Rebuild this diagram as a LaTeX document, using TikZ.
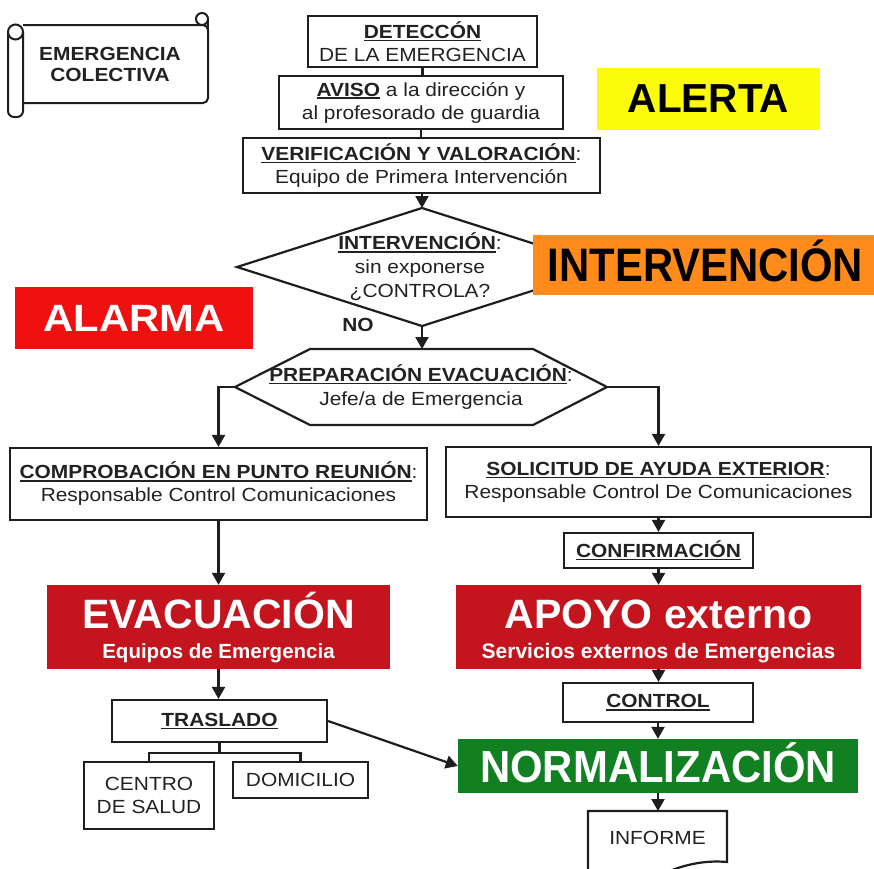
\documentclass[tikz,border=0pt]{standalone}
\usepackage{fontspec}
\setmainfont{Liberation Sans}[FakeStretch=1.1]
\newfontfamily\bigf{Liberation Sans}
\usepackage{graphicx}
\usetikzlibrary{arrows.meta}
\definecolor{linec}{HTML}{1E1E1E}
\definecolor{txt}{HTML}{222222}
\definecolor{darkred}{RGB}{196,20,30}
\definecolor{brightred}{RGB}{240,16,16}
\definecolor{grn}{RGB}{16,128,32}
\definecolor{orng}{RGB}{255,140,26}
\definecolor{yel}{RGB}{252,252,10}
\newsavebox\ttlbox
\newcommand\ttl[1]{\sbox\ttlbox{\textbf{#1}}\rlap{\rule[-2.8pt]{\wd\ttlbox}{1.4pt}}\usebox\ttlbox}
\tikzset{
  box/.style={draw=linec, line width=2.2pt, fill=white, inner sep=0pt, align=center, text=txt, font=\fontsize{19}{23}\selectfont},
  lbl/.style={inner sep=0pt, align=center},
  conn/.style={draw=linec, line width=2.2pt},
  arr/.style={conn, -{Triangle[width=13pt,length=12pt]}},
  tag/.style={inner sep=0pt, align=center, font=\bfseries},
}
\begin{document}
\begin{tikzpicture}[x=1pt,y=-1pt]
\clip (0,0) rectangle (874,868);
\fill[white] (0,0) rectangle (874,868);

% scroll
\draw[linec, line width=2pt, fill=white, rounded corners=5pt] (23,25) -- (208,25) -- (208,103) -- (23,103);
\draw[linec, line width=2pt] (208,19) -- (208,30);
\draw[linec, line width=2pt, fill=white] (202,19) circle (6);
\draw[linec, line width=2pt, fill=white, rounded corners=6pt] (8,32) -- (8,117) -- (23,117) -- (23,32);
\draw[linec, line width=2pt, fill=white] (15.5,32) circle (7.5);
\node[lbl, text=txt, font=\fontsize{19}{21}\selectfont\bfseries] (scroll) at (110,64) {EMERGENCIA\\COLECTIVA};

% top column
\node[box, minimum width=229pt, minimum height=51pt] (det) at (422.5,41.5) {\ttl{DETECCÓN}\\DE LA EMERGENCIA};
\node[box, minimum width=284pt, minimum height=53pt] (aviso) at (421,102.5) {\ttl{AVISO} a la dirección y\\al profesorado de guardia};
\node[box, minimum width=357pt, minimum height=55pt] (verif) at (421.5,165.5) {\ttl{VERIFICACIÓN Y VALORACIÓN}:\\Equipo de Primera Intervención};

% diamond
\coordinate (dT) at (422,208);
\coordinate (dR) at (607,267);
\coordinate (dB) at (422,326);
\coordinate (dL) at (237,267);
\draw[conn, fill=white] (dT) -- (dR) -- (dB) -- (dL) -- cycle;
\node[lbl, text=txt, font=\fontsize{19}{24}\selectfont] (dtext) at (420,267) {\ttl{INTERVENCIÓN}:\\sin exponerse\\¿CONTROLA?};
\node[lbl, text=txt, font=\fontsize{19}{19}\selectfont\bfseries] (no) at (358,325) {NO};

% hexagon
\coordinate (h1) at (310,349);
\coordinate (h2) at (533,349);
\coordinate (hR) at (607,387);
\coordinate (h4) at (533,425);
\coordinate (h5) at (310,425);
\coordinate (hL) at (235,387);
\coordinate (hT) at (421.5,349);
\draw[conn, fill=white] (h1) -- (h2) -- (hR) -- (h4) -- (h5) -- (hL) -- cycle;
\node[lbl, text=txt, font=\fontsize{19}{24}\selectfont] (htext) at (421,387) {\ttl{PREPARACIÓN EVACUACIÓN}:\\Jefe/a de Emergencia};

% level labels
\node[tag, fill=yel, minimum width=223pt, minimum height=62pt, text=black, font=\bigf\bfseries\fontsize{40.5}{40.5}\selectfont] (alerta) at (708.5,99) {ALERTA};
\node[tag, fill=orng, minimum width=345pt, minimum height=60pt, text=black, text height=33.5pt, text depth=0pt, font=\bigf\bfseries\fontsize{47}{47}\selectfont] (interv) at (705.5,265) {\scalebox{0.89}[1]{INTERVENCIÓN}};
\node[tag, fill=brightred, minimum width=238pt, minimum height=62pt, text=white, font=\bfseries\fontsize{38}{38}\selectfont] (alarma) at (134,318) {ALARMA};

% second level
\node[box, minimum width=417pt, minimum height=72pt] (comp) at (218.5,484) {\ttl{COMPROBACIÓN EN PUNTO REUNIÓN}:\\Responsable Control Comunicaciones};
\node[box, minimum width=425pt, minimum height=70pt] (soli) at (658.5,482) {\ttl{SOLICITUD DE AYUDA EXTERIOR}:\\Responsable Control De Comunicaciones};
\node[box, minimum width=189pt, minimum height=35pt] (conf) at (658.5,550.5) {\ttl{CONFIRMACIÓN}};

% red boxes
\node[tag, fill=darkred, minimum width=343pt, minimum height=84pt] (evac) at (218.5,627) {};
\node[lbl, anchor=base, text=white, font=\bigf\bfseries\fontsize{41}{41}\selectfont] (evact) at (218.5,628) {EVACUACIÓN};
\node[lbl, anchor=base, text=white, font=\bigf\bfseries\fontsize{20.5}{20.5}\selectfont] (evacs) at (218.5,658) {Equipos de Emergencia};
\node[tag, fill=darkred, minimum width=405pt, minimum height=84pt] (apoyo) at (658.5,627) {};
\node[lbl, anchor=base, text=white, font=\bigf\bfseries\fontsize{41}{41}\selectfont] (apoyot) at (658.5,628) {APOYO externo};
\node[lbl, anchor=base, text=white, font=\bigf\bfseries\fontsize{21}{21}\selectfont] (apoyos) at (658.5,658) {Servicios externos de Emergencias};

% bottom left
\node[box, minimum width=215pt, minimum height=42pt] (tras) at (219.5,721) {\ttl{TRASLADO}};
\node[box, minimum width=130pt, minimum height=67pt, font=\fontsize{19}{23}\selectfont] (centro) at (149,795.5) {CENTRO\\DE SALUD};
\node[box, minimum width=135pt, minimum height=36pt] (domi) at (300.5,780) {DOMICILIO};

% bottom right
\node[box, minimum width=190pt, minimum height=39pt] (control) at (658,702.5) {\ttl{CONTROL}};
\node[tag, fill=grn, minimum width=400pt, minimum height=54pt, text=white, text height=32.2pt, text depth=0pt, font=\bigf\bfseries\fontsize{45}{45}\selectfont] (normal) at (658,766) {\scalebox{0.93}[1]{NORMALIZACIÓN}};
\coordinate (infT) at (658,811);
\draw[conn, fill=white] (588,880) -- (588,811) -- (727,811) -- (727,862) .. controls (705,860) and (680,864) .. (650,880);
\node[lbl, text=txt, font=\fontsize{19}{19}\selectfont] (informe) at (657.5,838) {INFORME};

% connectors
\draw[conn] (det.south) -- (det.south |- aviso.north);
\draw[conn] (aviso.south) -- (aviso.south |- verif.north);
\draw[arr] (dT |- verif.south) -- (dT);
\draw[arr] (dB) -- (dB |- hT);
\draw[arr] (hL) -| (comp.north);
\draw[arr] (hR) -| (soli.north);
\draw[arr] (comp.south) -- (evac.north);
\draw[arr] (soli.south) -- (conf.north);
\draw[arr] (conf.south) -- (apoyo.north);
\draw[arr] (evac.south) -- (evac.south |- tras.north);
\draw[arr] (apoyo.south) -- (apoyo.south |- control.north);
\draw[arr] (control.south) -- (normal.north);
\draw[arr] (normal.south) -- (infT);
\draw[arr] (tras.east) -- (normal.west);
\draw[conn] (tras.south) -- ++(0,10) coordinate (tj);
\draw[conn] (centro.north) |- (tj) -| (domi.north);
\end{tikzpicture}
\end{document}
